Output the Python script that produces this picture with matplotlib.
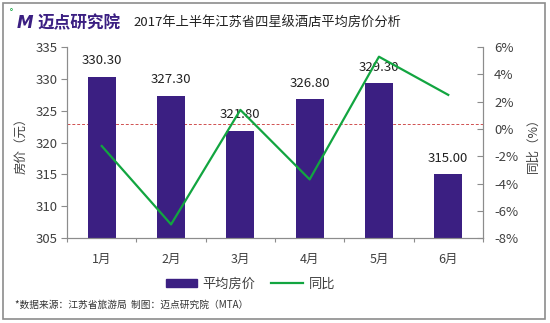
import matplotlib.pyplot as plt
import numpy as np
from matplotlib.lines import Line2D
from matplotlib.patches import Patch, Rectangle

plt.rcParams["font.family"] = ["Noto Sans CJK SC", "DejaVu Sans"]

months = ["1月", "2月", "3月", "4月", "5月", "6月"]
avg_price = [330.30, 327.30, 321.80, 326.80, 329.30, 315.00]
yoy_pct = [-1.25, -7.0, 1.4, -3.7, 5.3, 2.5]
ref_price = 323.0

purple = "#3b1f82"
green = "#12a540"
axis_gray = "#8c8c8c"
text_gray = "#404040"

fig = plt.figure(figsize=(5.5, 3.23), dpi=100)
ax = fig.add_axes([0.122, 0.263, 0.756, 0.591])
ax2 = ax.twinx()

x = np.arange(len(months))
ax.bar(x, avg_price, width=0.4, color=purple, zorder=2)
ax.axhline(ref_price, color="#d05050", lw=0.7, ls=(0, (3, 2)), zorder=1)
for xi, v in zip(x, avg_price):
    ax.annotate(f"{v:.2f}", (xi, v), xytext=(0, 7), textcoords="offset points",
                ha="center", va="bottom", fontsize=9.5, color="#222222")

ax.set_xlim(-0.5, len(months) - 0.5)
ax.set_ylim(305, 335)
ax.set_yticks(range(305, 336, 5))
ax.set_xticks(x)
ax.set_xticklabels(months)
ax.set_xticks(np.arange(-0.5, len(months)), minor=True)
ax.tick_params(axis="x", which="major", length=0, pad=11, labelsize=9, colors=text_gray)
ax.tick_params(axis="x", which="minor", length=3, color=axis_gray, width=0.8)
ax.tick_params(axis="y", length=4, color=axis_gray, width=0.8, labelsize=9.5,
               labelcolor=text_gray, pad=3)
ax.set_ylabel("房价（元）", fontsize=9, color=text_gray, labelpad=6)

ax2.plot(x, yoy_pct, color=green, lw=1.6, zorder=3)
ax2.set_ylim(-8, 6)
ax2.set_yticks(range(-8, 7, 2))
ax2.set_yticklabels([f"{t}%" for t in range(-8, 7, 2)])
ax2.tick_params(axis="y", direction="in", length=4, color=axis_gray, width=0.8,
                labelsize=9.5, labelcolor=text_gray, pad=8)
ax2.set_ylabel("同比（%）", fontsize=9, color=text_gray, labelpad=6)

for a in (ax, ax2):
    a.spines["top"].set_visible(False)
    for s in ("left", "right", "bottom"):
        a.spines[s].set_color(axis_gray)
        a.spines[s].set_linewidth(0.8)

# legend
handles = [Patch(color=purple), Line2D([], [], color=green, lw=1.6)]
fig.legend(handles, ["平均房价", "同比"], loc="center", bbox_to_anchor=(0.455, 0.121),
           ncol=2, frameon=False, fontsize=9.5, handlelength=2.4, handleheight=0.6,
           columnspacing=1.2, handletextpad=0.4, labelcolor=text_gray)

# title with logo
fig.text(0.017, 0.957, "˚", fontsize=7, color=green, va="center")
fig.text(0.031, 0.928, "M", fontsize=12, fontweight="bold", fontstyle="italic",
         color=purple, va="center", family="DejaVu Sans")
fig.text(0.068, 0.928, "迈点研究院", fontsize=12, fontweight="bold", color=purple,
         va="center")
fig.text(0.242, 0.928, "2017年上半年江苏省四星级酒店平均房价分析", fontsize=9.5,
         color="#222222", va="center")

# footer
fig.text(0.027, 0.056, "*数据来源：江苏省旅游局  制图：迈点研究院（MTA）",
         fontsize=7, color="#333333", va="center")

# outer frame
fig.patches.append(Rectangle((0.005, 0.012), 0.986, 0.979, transform=fig.transFigure,
                             fill=False, edgecolor="#8c8c8c", lw=1.2))

fig.savefig("out.png", dpi=100)
